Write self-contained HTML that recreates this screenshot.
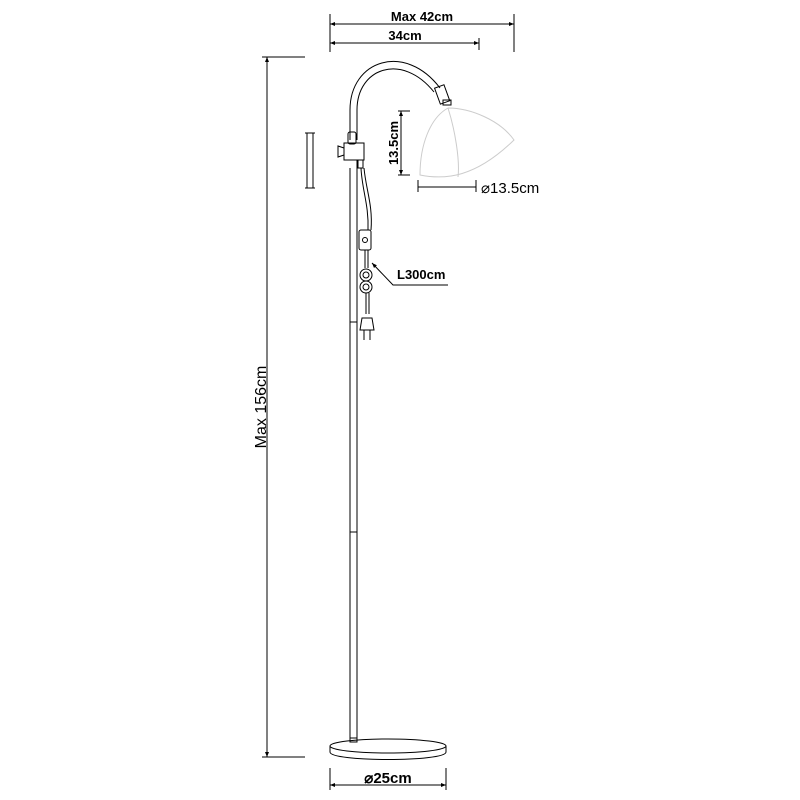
<!DOCTYPE html>
<html><head><style>body{margin:0;background:#fff}svg{display:block}text{font-family:"Liberation Sans",sans-serif;fill:#000}</style></head><body>
<svg width="800" height="800" viewBox="0 0 800 800" xmlns="http://www.w3.org/2000/svg">
<defs><marker id="a" viewBox="0 0 10 10" refX="10" refY="5" markerWidth="7" markerHeight="5" orient="auto-start-reverse"><path d="M0,1L10,5L0,9z" fill="#000"/></marker></defs>
<g stroke="#000" fill="none" stroke-width="1">
<line x1="330" y1="14" x2="330" y2="52"/><line x1="514" y1="14" x2="514" y2="52"/><line x1="479" y1="38" x2="479" y2="50"/>
<line x1="330" y1="24" x2="514" y2="24" marker-start="url(#a)" marker-end="url(#a)"/>
<line x1="330" y1="43" x2="479" y2="43" marker-start="url(#a)" marker-end="url(#a)"/>
<line x1="262" y1="57" x2="305" y2="57"/><line x1="262" y1="757" x2="305" y2="757"/>
<line x1="267" y1="57" x2="267" y2="757" marker-start="url(#a)" marker-end="url(#a)"/>
<line x1="307" y1="133" x2="307" y2="188"/><line x1="313" y1="133" x2="313" y2="188"/>
<line x1="305" y1="133" x2="315" y2="133"/><line x1="305" y1="188" x2="315" y2="188"/>
<line x1="350" y1="168" x2="350" y2="740"/><line x1="357" y1="160" x2="357" y2="740"/>
<line x1="350" y1="322" x2="357" y2="322"/><line x1="350" y1="532" x2="357" y2="532"/>
<path d="M350,140 L350,110 C350,60 405,42 440,88"/>
<path d="M357,140 L357,110 C357,68 402,52 434,92"/>
<rect x="437" y="86" width="10" height="17" transform="rotate(-20 442 94)"/>
<rect x="443" y="100" width="8" height="5"/>
<rect x="348" y="132" width="8" height="12" rx="2"/>
<rect x="344" y="143" width="20" height="17"/>
<path d="M344,148 L338,146 L338,157 L344,155"/>
<rect x="358" y="160" width="5" height="8"/>
<g stroke="#ccc"><path d="M448,108 C430,118 420,145 420,175 C445,180 475,178 514,140 C500,120 470,108 448,108"/><path d="M448,108 C455,130 460,160 458,177"/></g>
<line x1="398" y1="111" x2="410" y2="111"/><line x1="398" y1="175" x2="410" y2="175"/>
<line x1="401" y1="111" x2="401" y2="175" marker-start="url(#a)" marker-end="url(#a)"/>
<line x1="418" y1="180" x2="418" y2="192"/><line x1="476" y1="180" x2="476" y2="192"/>
<line x1="418" y1="187" x2="476" y2="187"/>
<path d="M361,168 C362,190 369,205 368,230"/><path d="M364,168 C366,190 373,205 371,230"/>
<rect x="359" y="230" width="12" height="20" rx="2"/>
<circle cx="365" cy="240" r="2.5"/>
<line x1="365" y1="250" x2="365" y2="268"/><line x1="368" y1="250" x2="368" y2="268"/>
<circle cx="366" cy="275" r="6"/><circle cx="366" cy="287" r="6"/><circle cx="366" cy="275" r="3"/><circle cx="366" cy="287" r="3"/>
<line x1="366" y1="293" x2="366" y2="314"/><line x1="369" y1="293" x2="369" y2="314"/>
<path d="M362,318 L372,318 L374,330 L360,330 Z"/>
<line x1="364" y1="330" x2="364" y2="340"/><line x1="370" y1="330" x2="370" y2="340"/>
<polyline points="448,285 393,285 372,263" marker-end="url(#a)"/>
<path d="M330,746 L330,752 C330,762 446,762 446,752 L446,746"/>
<ellipse cx="388" cy="746" rx="58" ry="7"/>
<rect x="350" y="738" width="7" height="4"/>
<line x1="330" y1="768" x2="330" y2="790"/><line x1="446" y1="768" x2="446" y2="790"/>
<line x1="330" y1="785" x2="446" y2="785" marker-start="url(#a)" marker-end="url(#a)"/>
</g>
<g font-weight="bold">
<text x="422" y="21" font-size="13" text-anchor="middle">Max 42cm</text>
<text x="405" y="40" font-size="13" text-anchor="middle">34cm</text>
<text x="481" y="193" font-size="15" font-weight="normal">⌀13.5cm</text>
<text transform="translate(398,143) rotate(-90)" font-size="13" text-anchor="middle">13.5cm</text>
<text x="397" y="279" font-size="13">L300cm</text>
<text transform="translate(266,407) rotate(-90)" font-size="16" font-weight="normal" text-anchor="middle">Max 156cm</text>
<text x="388" y="783" font-size="15" text-anchor="middle">⌀25cm</text>
</g>
</svg>
</body></html>
